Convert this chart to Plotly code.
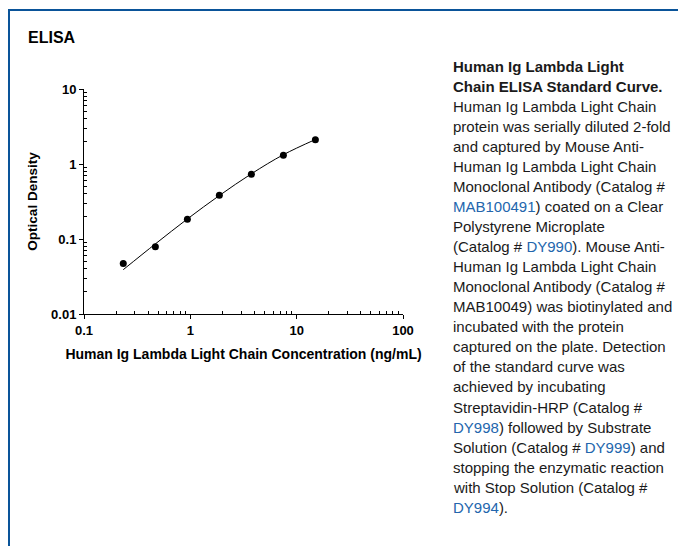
import plotly.graph_objects as go

# ---- data ----
conc = [0.234, 0.469, 0.938, 1.875, 3.75, 7.5, 15.0]
od = [0.047, 0.079, 0.184, 0.382, 0.73, 1.31, 2.10]
fit_conc = [0.234, 0.469, 0.938, 1.875, 3.75, 7.5, 15.0]
fit_od = [0.039, 0.086, 0.185, 0.38, 0.74, 1.33, 2.12]

x_tickvals = [0.1, 1, 10, 100]
x_ticktext = ["0.1", "1", "10", "100"]
y_tickvals = [0.01, 0.1, 1, 10]
y_ticktext = ["0.01", "0.1", "1", "10"]

caption_lines = [
    "<b>Human Ig Lambda Light</b>",
    "<b>Chain ELISA Standard Curve.</b>",
    "Human Ig Lambda Light Chain",
    "protein was serially diluted 2-fold",
    "and captured by Mouse Anti-",
    "Human Ig Lambda Light Chain",
    "Monoclonal Antibody (Catalog #",
    "<span style='color:#2366ad'>MAB100491</span>) coated on a Clear",
    "Polystyrene Microplate",
    "(Catalog # <span style='color:#2366ad'>DY990</span>). Mouse Anti-",
    "Human Ig Lambda Light Chain",
    "Monoclonal Antibody (Catalog #",
    "MAB10049) was biotinylated and",
    "incubated with the protein",
    "captured on the plate. Detection",
    "of the standard curve was",
    "achieved by incubating",
    "Streptavidin-HRP (Catalog #",
    "<span style='color:#2366ad'>DY998</span>) followed by Substrate",
    "Solution (Catalog # <span style='color:#2366ad'>DY999</span>) and",
    "stopping the enzymatic reaction",
    "with Stop Solution (Catalog #",
    "<span style='color:#2366ad'>DY994</span>).",
]

OFF = 8  # default page margin of the html body
W, H = 686 - OFF, 546 - OFF
# plot area in page pixels
PL, PR, PT, PB = 84, 403, 89, 314
L, R, T, B = PL - OFF, PR - OFF, PT - OFF, PB - OFF

def px2x(px):
    return (px - PL) / (PR - PL)

def px2y(py):
    return (PB - py) / (PB - PT)

FONT = "Liberation Sans, Arial, Helvetica, sans-serif"

fig = go.Figure()
fig.add_trace(go.Scatter(
    x=fit_conc, y=fit_od, mode="lines", line=dict(color="black", width=1, shape="spline"),
    showlegend=False, hoverinfo="skip"))
fig.add_trace(go.Scatter(
    x=conc, y=od, mode="markers", marker=dict(color="black", size=7),
    showlegend=False))

minor_x = [m * 10 ** e for e in (-1, 0, 1) for m in range(2, 10)]
minor_y = [m * 10 ** e for e in (-2, -1, 0) for m in range(2, 10)]

axis_common = dict(
    type="log", showgrid=False, zeroline=False, showline=True,
    linecolor="black", linewidth=1, ticks="outside", ticklen=4,
    tickcolor="black", tickwidth=1, tickmode="array",
    tickfont=dict(family=FONT, size=13, color="black", weight="bold"),
    title_font=dict(family=FONT, size=14, color="black", weight="bold"),
)

fig.update_layout(
    width=W, height=H, autosize=False,
    margin=dict(l=L, r=W - R, t=T, b=H - B),
    paper_bgcolor="white", plot_bgcolor="white",
    font=dict(family=FONT, color="black"),
    xaxis=dict(axis_common, range=[-1, 2], tickvals=x_tickvals, ticktext=x_ticktext,
               minor=dict(tickmode="array", tickvals=minor_x, ticks="inside", ticklen=3,
                          tickcolor="black", tickwidth=1, showgrid=False),
               title=dict(text="Human Ig Lambda Light Chain Concentration (ng/mL)", standoff=12)),
    yaxis=dict(axis_common, range=[-2, 1], tickvals=y_tickvals, ticktext=y_ticktext,
               minor=dict(tickmode="array", tickvals=minor_y, ticks="inside", ticklen=3,
                          tickcolor="black", tickwidth=1, showgrid=False),
               title=dict(text="Optical Density", standoff=10,
                          font=dict(family=FONT, size=13.5, color="black", weight="bold"))),
)

annotations = [dict(
    text="<b>ELISA</b>", x=px2x(26), y=px2y(37.5), xref="paper", yref="paper",
    xanchor="left", yanchor="middle", showarrow=False,
    font=dict(family=FONT, size=16, color="black"))]
for i, line in enumerate(caption_lines):
    annotations.append(dict(
        text=line, x=px2x(451), y=px2y(66 + i * 20.06), xref="paper", yref="paper",
        xanchor="left", yanchor="middle", showarrow=False, align="left",
        font=dict(family=FONT, size=15, color="#1a1a1a")))
fig.update_layout(annotations=annotations)

frame_color = "#0a5499"
fig.update_layout(shapes=[
    dict(type="line", xref="paper", yref="paper", x0=px2x(9), x1=px2x(9),
         y0=px2y(560), y1=px2y(9), line=dict(color=frame_color, width=2)),
    dict(type="line", xref="paper", yref="paper", x0=px2x(8), x1=px2x(700),
         y0=px2y(10), y1=px2y(10), line=dict(color=frame_color, width=2)),
])

fig.write_html("out.html")
